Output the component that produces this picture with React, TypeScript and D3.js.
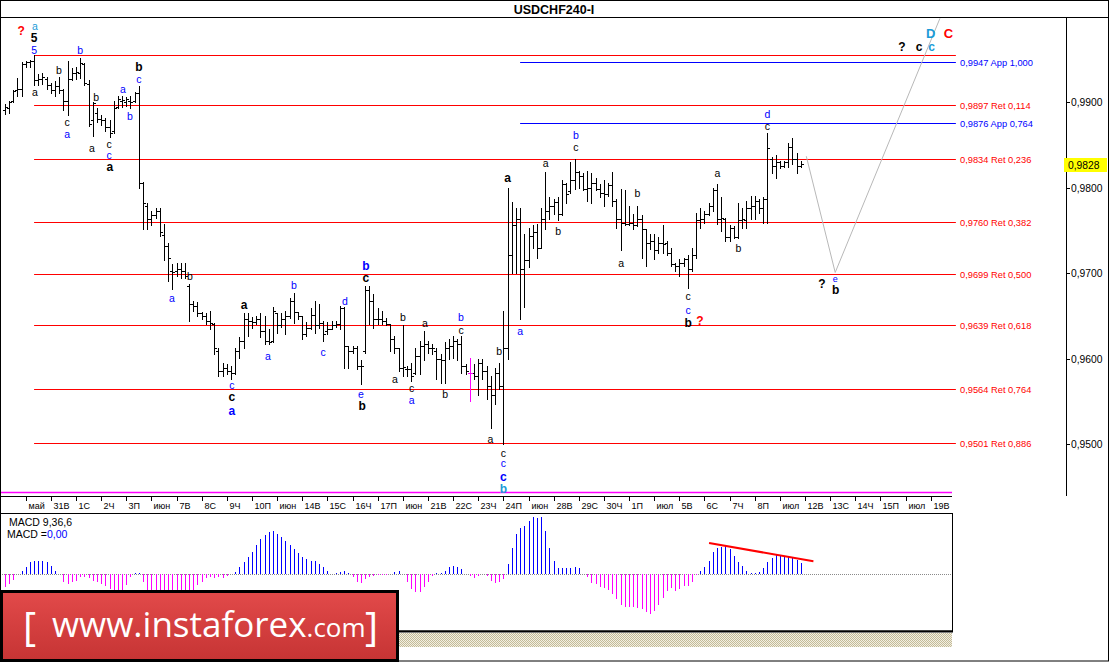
import React from 'react';
import * as d3 from 'd3';

const W = 1109;
const H = 662;
const FONT = "'Liberation Sans', Arial, sans-serif";

// Day labels on the time axis (one per trading day, 6 four-hour bars each)
const dayLabels = ['май','31В','1С','2Ч','3П','июн','7В','8С','9Ч','10П','июн','14В','15С','16Ч','17П','июн','21В','22С','23Ч','24П','июн','28В','29С','30Ч','1П','июл','5В','6С','7Ч','8П','июл','12В','13С','14Ч','15П','июл','19В'];

const priceTicks = [0.95, 0.96, 0.97, 0.98, 0.99];
const lastPrice = 0.9828;

// USDCHF H4 bars: [open, high, low, close] in pips (price x 10000)
const ohlc = [
[9891,9898,9887,9895],[9893,9902,9888,9900],[9902,9915,9901,9913],[9914,9929,9907,9916],[9916,9947,9908,9945],
[9945,9949,9942,9947],[9947,9950,9942,9948],[9948,9955,9920,9926],[9926,9933,9921,9928],[9927,9934,9922,9930],
[9928,9930,9916,9920],[9920,9923,9911,9914],[9914,9925,9907,9919],[9919,9930,9911,9914],[9914,9916,9891,9902],
[9902,9949,9885,9928],[9928,9940,9926,9935],[9935,9942,9928,9936],[9935,9952,9929,9946],[9945,9946,9921,9923],
[9922,9926,9873,9875],[9879,9900,9861,9899],[9888,9893,9877,9881],[9881,9885,9874,9879],[9879,9882,9867,9871],
[9871,9879,9859,9864],[9867,9902,9864,9893],[9895,9907,9894,9904],[9902,9908,9895,9903],[9901,9906,9896,9904],
[9902,9907,9893,9901],[9902,9912,9901,9911],[9911,9919,9800,9806],[9806,9807,9752,9782],[9779,9782,9752,9764],
[9764,9773,9756,9768],[9768,9776,9765,9773],[9773,9776,9744,9748],[9745,9758,9715,9732],[9732,9736,9691,9718],
[9703,9711,9682,9701],[9703,9712,9697,9705],[9705,9712,9695,9703],[9703,9712,9694,9697],[9685,9688,9644,9664],
[9664,9668,9656,9662],[9662,9666,9650,9654],[9654,9655,9647,9650],[9650,9653,9641,9644],[9644,9656,9635,9642],
[9641,9642,9606,9612],[9609,9613,9580,9586],[9586,9595,9580,9589],[9589,9594,9582,9586],[9586,9591,9576,9583],
[9583,9613,9582,9609],[9609,9625,9601,9621],[9621,9654,9613,9647],[9647,9653,9627,9644],[9644,9649,9636,9643],
[9643,9650,9641,9646],[9646,9653,9625,9633],[9633,9650,9617,9621],[9621,9635,9617,9619],[9621,9660,9619,9656],
[9654,9654,9630,9639],[9639,9654,9637,9647],[9647,9656,9629,9650],[9650,9671,9648,9668],[9668,9677,9642,9655],
[9655,9655,9647,9650],[9650,9650,9623,9629],[9629,9643,9627,9636],[9636,9659,9635,9651],[9651,9668,9630,9639],
[9639,9664,9636,9642],[9642,9644,9621,9629],[9632,9643,9629,9635],[9635,9644,9635,9640],[9640,9644,9637,9641],
[9641,9662,9635,9659],[9659,9660,9589,9615],[9615,9615,9589,9609],[9609,9615,9607,9613],[9613,9615,9588,9591],
[9591,9598,9571,9592],[9609,9685,9607,9680],[9680,9685,9641,9668],[9668,9676,9636,9647],[9647,9659,9641,9646],
[9647,9656,9641,9644],[9644,9648,9639,9641],[9641,9641,9609,9623],[9623,9627,9607,9612],[9612,9612,9586,9589],
[9589,9639,9580,9590],[9588,9592,9580,9588],[9588,9595,9574,9580],[9583,9612,9582,9603],[9603,9621,9582,9615],
[9615,9633,9598,9617],[9617,9621,9607,9613],[9613,9617,9606,9612],[9609,9612,9576,9600],[9600,9606,9572,9598],
[9598,9619,9572,9612],[9612,9623,9600,9615],[9615,9627,9601,9621],[9621,9623,9598,9617],[9617,9627,9583,9592],
[9592,9594,9582,9586],[9583,9601,9551,9583],[9583,9594,9576,9580],[9580,9600,9557,9595],[9595,9600,9576,9586],
[9586,9592,9553,9568],[9568,9580,9519,9557],[9557,9589,9547,9583],[9583,9595,9565,9568],[9568,9656,9500,9613],
[9613,9800,9600,9721],[9721,9783,9700,9756],[9756,9776,9700,9764],[9764,9776,9647,9705],[9705,9746,9660,9715],
[9715,9753,9707,9744],[9744,9756,9730,9748],[9748,9758,9718,9730],[9730,9776,9730,9764],[9764,9818,9752,9773],
[9773,9789,9764,9779],[9779,9787,9770,9783],[9783,9789,9762,9770],[9770,9809,9768,9805],[9805,9806,9782,9793],
[9796,9830,9794,9809],[9809,9834,9799,9818],[9818,9820,9800,9814],[9814,9817,9797,9799],[9799,9820,9785,9800],
[9800,9817,9782,9806],[9806,9812,9797,9799],[9799,9805,9789,9794],[9794,9809,9779,9793],[9793,9806,9791,9803],
[9803,9819,9779,9785],[9785,9787,9753,9764],[9764,9799,9727,9759],[9759,9797,9756,9758],[9758,9779,9756,9759],
[9759,9770,9752,9756],[9756,9779,9755,9764],[9764,9768,9718,9752],[9752,9752,9709,9735],[9735,9746,9729,9738],
[9738,9746,9717,9727],[9727,9742,9724,9735],[9735,9756,9724,9734],[9735,9738,9721,9724],[9724,9730,9709,9711],
[9711,9712,9703,9709],[9709,9717,9697,9712],[9712,9718,9709,9717],[9717,9721,9683,9705],[9705,9730,9703,9721],
[9721,9771,9718,9762],[9762,9776,9753,9764],[9764,9773,9759,9770],[9770,9782,9768,9779],[9779,9800,9773,9797],
[9797,9805,9758,9764],[9764,9789,9750,9765],[9764,9765,9738,9742],[9742,9756,9738,9753],[9753,9755,9741,9742],
[9742,9782,9741,9762],[9762,9776,9753,9763],[9762,9785,9753,9777],[9777,9791,9764,9779],[9779,9791,9764,9785],
[9785,9787,9771,9776],[9776,9789,9759,9787],[9787,9864,9759,9847],[9834,9836,9817,9826],[9826,9838,9812,9830],
[9830,9832,9823,9826],[9826,9832,9825,9830],[9830,9853,9824,9848],[9848,9858,9828,9834],[9834,9841,9817,9826],
[9826,9832,9824,9828]
];
const magentaBars = [111];

// MACD(9,36,6) main histogram, in pips
const macdHist = [
-13,-10,-6,0,3,7,12,13,13,13,
12,8,3,0,-8,-10,-8,-7,-3,-3,
-4,-7,-8,-10,-12,-15,-18,-19,-18,-11,
-3,1,1,-8,-20,-26,-30,-33,-36,-39,
-40,-40,-38,-34,-28,-18,-11,-8,-4,-3,
-4,-3,-4,-2,0,2,7,12,17,22,
29,35,39,42,43,40,37,33,29,25,
21,17,15,13,13,10,7,3,0,1,
2,3,1,-3,-8,-9,-5,-3,-2,-1,
-1,-1,0,2,3,0,-8,-15,-18,-18,
-13,-8,-2,1,1,3,7,8,7,5,
0,-2,-4,-2,0,-2,-7,-9,-8,-5,
10,26,40,46,48,53,57,56,57,43,
26,13,6,6,6,6,7,6,0,-3,
-9,-10,-13,-14,-16,-20,-25,-31,-33,-33,
-33,-34,-35,-38,-40,-37,-31,-24,-17,-14,
-17,-15,-12,-12,-8,-1,3,7,13,22,
26,27,28,25,18,12,8,3,1,1,
2,6,12,16,20,19,18,17,16,14,
11
];

// Fibonacci levels
const retLevels = [
  { price: 0.9955, text: '' },
  { price: 0.9897, text: '0,9897 Ret 0,114' },
  { price: 0.9834, text: '0,9834 Ret 0,236' },
  { price: 0.9760, text: '0,9760 Ret 0,382' },
  { price: 0.9699, text: '0,9699 Ret 0,500' },
  { price: 0.9639, text: '0,9639 Ret 0,618' },
  { price: 0.9564, text: '0,9564 Ret 0,764' },
  { price: 0.9501, text: '0,9501 Ret 0,886' },
];
const appLevels = [
  { price: 0.9947, text: '0,9947 App 1,000' },
  { price: 0.9876, text: '0,9876 App 0,764' },
];
const retStartBar = 7;
const appStartBar = 123;
const levelEndBar = 227;
const baseLevel = 0.9444;

// Forecast path (bar index, price)
const projection = [
  { i: 191.3, p: 0.9837 },
  { i: 198.2, p: 0.9701 },
  { i: 223.2, p: 0.99985 },
];
// MACD divergence trend line (bar index, macd)
const macdTrend = [
  { i: 168.1, v: 31 },
  { i: 193, v: 12.7 },
];

// Wave labels: [bar index, price pips, text, color, bold, size]
const waveLabels: any[] = [
  [3.9, 9984, '?', 'r', 1], [7.2, 9989, 'a', 'c', 0], [7.0, 9975, '5', 'k', 1], [7.0, 9961, '5', 'b', 0],
  [7.2, 9912, 'a', 'k', 0], [12.9, 9938, 'b', 'k', 0], [18.0, 9961, 'b', 'b', 0], [14.9, 9877, 'c', 'k', 0],
  [14.9, 9863, 'a', 'b', 0], [21.8, 9906, 'b', 'k', 0], [20.8, 9847, 'a', 'k', 0], [24.9, 9851, 'c', 'k', 0],
  [24.9, 9838, 'c', 'b', 0], [25.1, 9824, 'a', 'k', 1], [28.2, 9916, 'a', 'b', 0], [29.9, 9884, 'b', 'b', 0],
  [32.0, 9941, 'b', 'k', 1], [32.0, 9928, 'c', 'b', 0], [39.9, 9671, 'a', 'b', 0], [44.2, 9697, 'b', 'k', 0],
  [54.2, 9569, 'c', 'b', 0], [54.2, 9555, 'c', 'k', 1], [54.2, 9539, 'a', 'b', 1], [57.1, 9663, 'a', 'k', 1],
  [62.8, 9603, 'a', 'b', 0], [69.0, 9686, 'b', 'b', 0], [76.0, 9608, 'c', 'b', 0], [81.2, 9668, 'd', 'b', 0],
  [85.0, 9559, 'e', 'b', 0], [85.3, 9545, 'b', 'k', 1], [86.2, 9708, 'b', 'b', 1], [86.2, 9694, 'c', 'k', 1],
  [95.0, 9649, 'b', 'k', 0], [93.1, 9576, 'a', 'k', 0], [97.1, 9566, 'c', 'k', 0], [97.1, 9552, 'a', 'b', 0],
  [100.3, 9642, 'a', 'k', 0], [105.1, 9559, 'b', 'k', 0], [108.9, 9649, 'b', 'b', 0], [108.9, 9634, 'c', 'k', 0],
  [118.0, 9609, 'b', 'k', 0], [115.9, 9506, 'a', 'k', 0], [119.0, 9490, 'c', 'k', 0], [119.0, 9478, 'c', 'b', 0],
  [119.0, 9462, 'c', 'b', 1], [119.0, 9448, 'b', 'c', 1], [123.0, 9632, 'a', 'b', 0], [120.0, 9811, 'a', 'k', 1],
  [129.1, 9829, 'a', 'k', 0], [132.1, 9749, 'b', 'k', 0], [136.3, 9862, 'b', 'b', 0], [136.3, 9848, 'c', 'k', 0],
  [151.0, 9794, 'b', 'k', 0], [147.1, 9712, 'a', 'k', 0], [163.1, 9673, 'c', 'k', 0], [163.1, 9657, 'c', 'b', 0],
  [163.1, 9642, 'b', 'k', 1], [165.9, 9644, '?', 'r', 1], [170.1, 9817, 'a', 'k', 0], [175.1, 9730, 'b', 'k', 0],
  [182.0, 9886, 'd', 'b', 0], [182.0, 9872, 'c', 'k', 0], [195.0, 9688, '?', 'k', 1], [198.2, 9693, 'e', 'b', 0, 9],
  [198.3, 9681, 'b', 'k', 1], [214.1, 9965, '?', 'k', 1], [218.2, 9965, 'c', 'k', 1], [221.2, 9965, 'c', 'c', 1],
  [221.0, 9981, 'D', 'c', 1, 13], [225.2, 9981, 'C', 'r', 1, 13],
];
const labelColors: Record<string, string> = { k: '#000000', b: '#0000ff', c: '#1b9bd7', r: '#ff0000' };

export default function App() {
  const x = d3.scaleLinear().domain([0, 190]).range([4.75, 800.85]);
  const y = d3.scaleLinear().domain([0.9501, 0.9947]).range([443.3, 62.3]);
  const ym = d3.scaleLinear().domain([-57, 60]).range([631, 514]);
  const cx = (i: number) => Math.round(x(i)) + 0.5;
  const cy = (p: number) => Math.round(y(p)) + 0.5;

  const barPath = (d: number[], i: number) => {
    const [o, h, l, c] = d.map((v) => v / 10000);
    const X = cx(i);
    const xi = Math.round(x(i));
    return `M${X},${Math.round(y(h))}V${Math.round(y(l)) + 1}M${xi - 2},${cy(o)}H${xi + 1}M${xi},${cy(c)}H${xi + 3}`;
  };
  let blackPath = '';
  let magentaPath = '';
  ohlc.forEach((d, i) => {
    if (magentaBars.includes(i)) magentaPath += barPath(d, i);
    else blackPath += barPath(d, i);
  });

  const projLine = d3.line<{ i: number; p: number }>().x((d) => x(d.i)).y((d) => y(d.p))(projection) || '';
  const trendLine = d3.line<{ i: number; v: number }>().x((d) => x(d.i)).y((d) => ym(d.v))(macdTrend) || '';
  const fmt = (v: number) => d3.format('.4f')(v).replace('.', ',');
  const z0 = Math.round(ym(0)) + 0.5;
  const xEnd = x(levelEndBar);

  return (
    <svg width={W} height={H} style={{ position: 'absolute', left: 0, top: 0, display: 'block', background: '#fff' }} fontFamily={FONT}>
      <defs>
        <clipPath id="plotClip"><rect x={0} y={18} width={1066} height={478} /></clipPath>
        <pattern id="hatch" width={2} height={2} patternUnits="userSpaceOnUse">
          <rect width={2} height={2} fill="#f2efe2" />
          <rect width={1} height={1} fill="#c4bb98" />
          <rect x={1} y={1} width={1} height={1} fill="#c4bb98" />
        </pattern>
        <linearGradient id="logoGrad" x1="0" y1="0" x2="0" y2="1">
          <stop offset="0" stopColor="#e24a4a" />
          <stop offset="1" stopColor="#c63434" />
        </linearGradient>
      </defs>
      <rect x={0} y={0} width={W} height={H} fill="#fff" />

      {/* header */}
      <line x1={0} x2={W} y1={17.5} y2={17.5} stroke="#000" />
      <text x={554} y={14} textAnchor="middle" fontSize={12.5} fontWeight="bold" fill="#000">USDCHF240-I</text>

      {/* fibonacci levels */}
      {retLevels.map((l, k) => (
        <g key={'r' + k}>
          <line x1={x(retStartBar)} x2={xEnd} y1={cy(l.price)} y2={cy(l.price)} stroke="#ff0000" />
          {l.text && <text x={960} y={cy(l.price)} dominantBaseline="central" fontSize={9.3} fill="#ff0000">{l.text}</text>}
        </g>
      ))}
      {appLevels.map((l, k) => (
        <g key={'a' + k}>
          <line x1={x(appStartBar)} x2={xEnd} y1={cy(l.price)} y2={cy(l.price)} stroke="#0000ff" />
          <text x={960} y={cy(l.price)} dominantBaseline="central" fontSize={9.3} fill="#0000ff">{l.text}</text>
        </g>
      ))}
      <line x1={0} x2={952} y1={cy(baseLevel)} y2={cy(baseLevel)} stroke="#ff00ff" strokeWidth={1.5} />

      {/* price bars */}
      <path d={blackPath} stroke="#000" strokeWidth={1} fill="none" shapeRendering="crispEdges" />
      <path d={magentaPath} stroke="#ff00ff" strokeWidth={1} fill="none" shapeRendering="crispEdges" />

      {/* projection */}
      <path d={projLine} clipPath="url(#plotClip)" stroke="#b8b8b8" strokeWidth={1} fill="none" />

      {/* wave labels */}
      {waveLabels.map((w, k) => (
        <text key={'w' + k} x={x(w[0])} y={y(w[1] / 10000)} textAnchor="middle" dominantBaseline="central"
          fontSize={w[5] || (w[4] ? 12 : 10.5)} fontWeight={w[4] ? 'bold' : 'normal'} fill={labelColors[w[3]]}>{w[2]}</text>
      ))}

      {/* price axis */}
      <line x1={1066.5} x2={1066.5} y1={18} y2={496} stroke="#000" />
      {priceTicks.map((t) => (
        <g key={'p' + t}>
          <line x1={1066} x2={1070} y1={cy(t)} y2={cy(t)} stroke="#000" />
          <text x={1071} y={cy(t)} dominantBaseline="central" fontSize={10.3} fill="#000">{fmt(t)}</text>
        </g>
      ))}
      <rect x={1064} y={cy(lastPrice) - 6.5} width={43} height={14} fill="#ffff00" />
      <text x={1068} y={cy(lastPrice) + 0.5} dominantBaseline="central" fontSize={10.3} fill="#000">{fmt(lastPrice)}</text>

      {/* time axis */}
      <line x1={0} x2={952} y1={496.5} y2={496.5} stroke="#000" />
      {dayLabels.map((lab, k) => {
        const tx = cx(5 + 6 * k);
        return (
          <g key={'t' + k}>
            <line x1={tx} x2={tx} y1={497} y2={501} stroke="#000" />
            <text x={tx + 2} y={509} fontSize={9} fill="#000">{lab}</text>
          </g>
        );
      })}

      {/* MACD panel */}
      <rect x={0.5} y={513.5} width={952} height={117.5} fill="#fff" stroke="#000" />
      <line x1={0} x2={953} y1={631.5} y2={631.5} stroke="#000" strokeWidth={2} />
      <line x1={0} x2={952} y1={z0} y2={z0} stroke="#8a8a8a" strokeDasharray="1,1" />
      {macdHist.map((v, i) => (v === 0 ? null : (
        <line key={'m' + i} x1={cx(i)} x2={cx(i)} y1={Math.round(ym(0))} y2={Math.round(ym(v))}
          stroke={v > 0 ? '#0000ff' : '#ff00ff'} strokeWidth={1} shapeRendering="crispEdges" />
      )))}
      <path d={trendLine} stroke="#ff0000" strokeWidth={2} fill="none" />
      <text x={9} y={526} fontSize={10.5} fill="#000">MACD 9,36,6</text>
      <text x={7} y={538} fontSize={10.5} fill="#000">MACD =<tspan fill="#0000ff">0,00</tspan></text>

      <rect x={0} y={633} width={952} height={14} fill="url(#hatch)" />

      {/* logo */}
      <rect x={1.5} y={591.5} width={396} height={69} fill="url(#logoGrad)" stroke="#000" strokeWidth={3} />
      <text x={23} y={641} fill="#fff" fontFamily="'Open Sans', sans-serif">
        <tspan fontSize={40}>[</tspan>
        <tspan x={52} y={637} fontSize={35}>www.instaforex</tspan>
        <tspan fontSize={26}>.com</tspan>
        <tspan x={365} y={641} fontSize={40}>]</tspan>
      </text>

      {/* outer frame */}
      <rect x={0.5} y={0.5} width={W - 1} height={H - 1.5} fill="none" stroke="#000" />
    </svg>
  );
}
